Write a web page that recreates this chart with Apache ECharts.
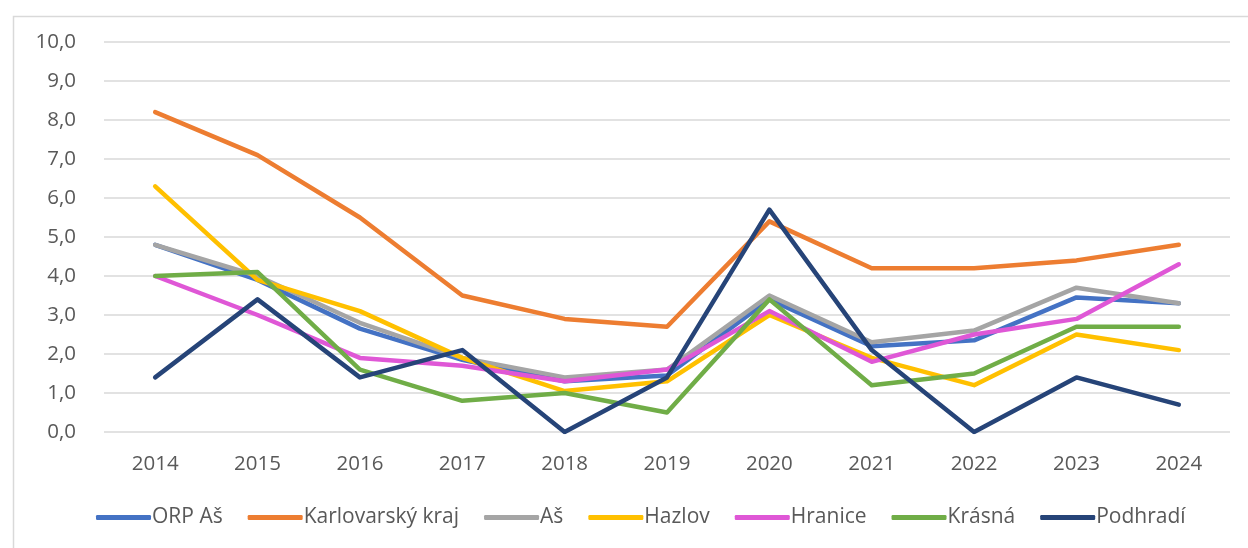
<!DOCTYPE html>
<html>
<head>
<meta charset="utf-8">
<script src="https://cdn.jsdelivr.net/npm/echarts@6/dist/echarts.min.js"></script>
<style>
  html, body { margin: 0; padding: 0; background: #fff; }
  #chart { width: 1248px; height: 548px; }
</style>
</head>
<body>
<div id="chart"></div>
<script>
// years on the x axis
const years = ['2014', '2015', '2016', '2017', '2018', '2019', '2020', '2021', '2022', '2023', '2024']

// series values
const orpAs = [4.8, 3.9, 2.65, 1.85, 1.3, 1.45, 3.4, 2.2, 2.35, 3.45, 3.3]
const karlovarskyKraj = [8.2, 7.1, 5.5, 3.5, 2.9, 2.7, 5.4, 4.2, 4.2, 4.4, 4.8]
const as = [4.8, 4.0, 2.8, 1.9, 1.4, 1.6, 3.5, 2.3, 2.6, 3.7, 3.3]
const hazlov = [6.3, 3.9, 3.1, 1.9, 1.05, 1.3, 3.0, 1.9, 1.2, 2.5, 2.1]
const hranice = [4.0, 3.0, 1.9, 1.7, 1.3, 1.6, 3.1, 1.8, 2.5, 2.9, 4.3]
const krasna = [4.0, 4.1, 1.6, 0.8, 1.0, 0.5, 3.4, 1.2, 1.5, 2.7, 2.7]
const podhradi = [1.4, 3.4, 1.4, 2.1, 0.0, 1.4, 5.7, 2.1, 0.0, 1.4, 0.7]

const seriesNames = ['ORP Aš', 'Karlovarský kraj', 'Aš', 'Hazlov', 'Hranice', 'Krásná', 'Podhradí']
const seriesData = [orpAs, karlovarskyKraj, as, hazlov, hranice, krasna, podhradi]
const colors = ['#4472C4', '#ED7D31', '#A5A5A5', '#FFC000', '#DF57D6', '#70AD47', '#264478']

const textColor = '#595959'
const fontFamily = '"Open Sans", "Noto Sans", sans-serif'

const chart = echarts.init(document.getElementById('chart'), null, { renderer: 'canvas' })

chart.setOption({
  animation: false,
  color: colors,
  textStyle: { fontFamily: fontFamily },
  graphic: [{
    type: 'rect',
    left: 11,
    top: 14,
    shape: { width: 1400, height: 700 },
    style: { fill: 'none', stroke: '#D9D9D9', lineWidth: 1.5 },
    silent: true
  }],
  grid: { left: 104, right: 18, top: 42, bottom: 116, containLabel: false },
  legend: {
    left: 91,
    top: 502,
    icon: 'roundRect',
    itemWidth: 55,
    itemHeight: 5,
    itemGap: 25,
    textStyle: { color: textColor, fontSize: 21, fontFamily: fontFamily, padding: [0, 0, 0, -4] },
    data: seriesNames
  },
  xAxis: {
    type: 'category',
    data: years,
    boundaryGap: true,
    axisLine: { show: false },
    axisTick: { show: false },
    axisLabel: { color: textColor, fontSize: 20.5, margin: 22 }
  },
  yAxis: {
    type: 'value',
    min: 0,
    max: 10,
    interval: 1,
    axisLine: { show: false },
    axisTick: { show: false },
    splitLine: { lineStyle: { color: '#D9D9D9', width: 1.5 } },
    axisLabel: {
      color: textColor,
      fontSize: 20.5,
      margin: 28,
      formatter: v => v.toFixed(1).replace('.', ',')
    }
  },
  series: seriesNames.map((name, i) => ({
    name: name,
    type: 'line',
    data: seriesData[i],
    symbol: 'none',
    lineStyle: { width: 4.5, cap: 'round', join: 'round' }
  }))
})
</script>
</body>
</html>
